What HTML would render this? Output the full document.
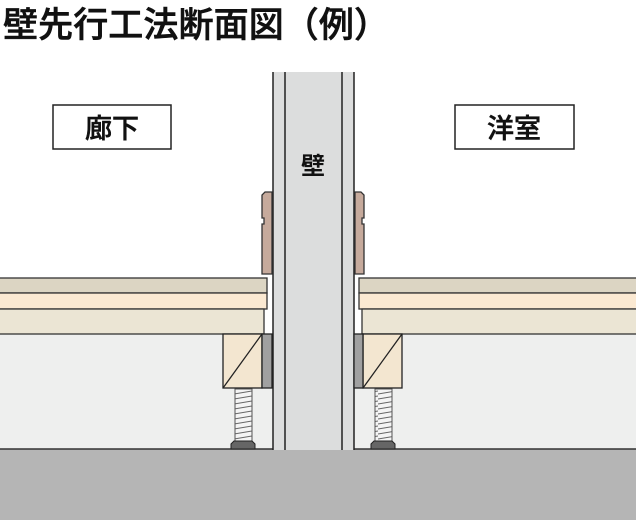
<!DOCTYPE html>
<html><head><meta charset="utf-8"><style>
body{margin:0;width:636px;height:520px;background:#fff;overflow:hidden}
svg{display:block}
text{font-family:"Liberation Sans","Noto Sans CJK JP",sans-serif}
</style></head><body>
<svg width="636" height="520" viewBox="0 0 636 520" xmlns="http://www.w3.org/2000/svg">
<defs>
<pattern id="th" width="18" height="5" patternUnits="userSpaceOnUse">
<rect width="18" height="5" fill="#f4f4f4"/>
<line x1="0" y1="4" x2="18" y2="1" stroke="#666" stroke-width="1"/>
</pattern>
</defs>
<text x="3" y="37" font-size="35" font-weight="500" fill="#111" stroke="#111" stroke-width="0.6" textLength="386" lengthAdjust="spacing">壁先行工法断面図（例）</text>
<!-- under-floor space -->
<rect x="0" y="334" width="636" height="116" fill="#eeefee"/>
<!-- floor slab -->
<rect x="-2" y="449" width="640" height="73" fill="#b5b5b5" stroke="#333" stroke-width="1.5"/>
<!-- wall -->
<rect x="273" y="72" width="81" height="378" fill="#dcdddd"/>
<path d="M273,72 V450 M354,72 V450 M285,72 V450 M342,72 V450" stroke="#222" stroke-width="1.5" fill="none"/>
<text x="313" y="174" font-size="24" font-weight="bold" text-anchor="middle" fill="#111">壁</text>
<!-- baseboards -->
<path d="M265,192 L272,192 L272,274 L262,274 L262,224 L264,224 L264,218 L262,218 L262,195 Z" fill="#c6aa9c" stroke="#333" stroke-width="1.3"/>
<path d="M361,192 L355,192 L355,274 L364,274 L364,224 L362,224 L362,218 L364,218 L364,195 Z" fill="#c6aa9c" stroke="#333" stroke-width="1.3"/>
<!-- left floor -->
<rect x="-2" y="278" width="269" height="15" fill="#dcd5c3" stroke="#333" stroke-width="1.3"/>
<rect x="-2" y="293" width="269" height="16" fill="#fbe9d2" stroke="#333" stroke-width="1.3"/>
<rect x="-2" y="309" width="266" height="25" fill="#ebe5d4" stroke="#333" stroke-width="1.3"/>
<!-- right floor -->
<rect x="359" y="278" width="279" height="15" fill="#dcd5c3" stroke="#333" stroke-width="1.3"/>
<rect x="359" y="293" width="279" height="16" fill="#fbe9d2" stroke="#333" stroke-width="1.3"/>
<rect x="362" y="309" width="276" height="25" fill="#ebe5d4" stroke="#333" stroke-width="1.3"/>
<!-- left support -->
<rect x="223" y="334" width="39" height="54" fill="#f3e6d0" stroke="#222" stroke-width="1.3"/>
<line x1="223" y1="388" x2="262" y2="334" stroke="#222" stroke-width="1.3"/>
<rect x="262" y="334" width="10" height="54" fill="#a0a0a0" stroke="#222" stroke-width="1.3"/>
<rect x="235" y="389" width="17" height="53" fill="url(#th)" stroke="#555" stroke-width="1"/>
<path d="M231,449 L231,444 L234,441 L252,441 L255,444 L255,449 Z" fill="#666" stroke="#222" stroke-width="1"/>
<!-- right support -->
<rect x="363" y="334" width="39" height="54" fill="#f3e6d0" stroke="#222" stroke-width="1.3"/>
<line x1="363" y1="388" x2="402" y2="334" stroke="#222" stroke-width="1.3"/>
<rect x="354" y="334" width="9" height="54" fill="#a0a0a0" stroke="#222" stroke-width="1.3"/>
<rect x="375" y="389" width="17" height="53" fill="url(#th)" stroke="#555" stroke-width="1"/>
<path d="M371,449 L371,444 L374,441 L392,441 L395,444 L395,449 Z" fill="#666" stroke="#222" stroke-width="1"/>
<!-- labels -->
<rect x="53" y="105" width="118" height="44" fill="#fff" stroke="#222" stroke-width="1.5"/>
<text x="112" y="138" font-size="27" font-weight="500" stroke="#111" stroke-width="0.5" text-anchor="middle" fill="#111">廊下</text>
<rect x="455" y="105" width="119" height="44" fill="#fff" stroke="#222" stroke-width="1.5"/>
<text x="514" y="138" font-size="27" font-weight="500" stroke="#111" stroke-width="0.5" text-anchor="middle" fill="#111">洋室</text>
</svg>
</body></html>
